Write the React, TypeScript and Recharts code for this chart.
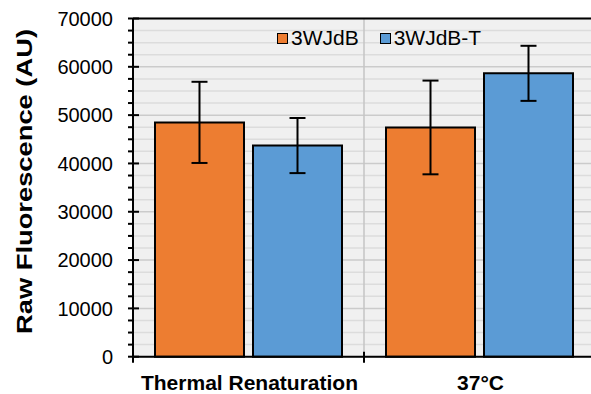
import React from 'react';
import { BarChart, Bar, XAxis, YAxis, CartesianGrid, ErrorBar, ReferenceLine } from 'recharts';

const categories = ['Thermal Renaturation', '37°C'];
const seriesNames = ['3WJdB', '3WJdB-T'];
const wtValues = [48500, 47450];
const wtErrors = [8400, 9700];
const tValues = [43700, 58650];
const tErrors = [5700, 5700];
const yTicks = [0, 2500, 5000, 7500, 10000, 12500, 15000, 17500, 20000, 22500, 25000, 27500, 30000, 32500, 35000, 37500, 40000, 42500, 45000, 47500, 50000, 52500, 55000, 57500, 60000, 62500, 65000, 67500, 70000];
const yLabels = [0, 10000, 20000, 30000, 40000, 50000, 60000, 70000];

const COLORS = ['#ED7D31', '#5B9BD5'];
const FONT = '"Liberation Sans", Arial, sans-serif';

const data = categories.map((c, i) => ({
  name: c,
  wt: wtValues[i],
  wtErr: wtErrors[i],
  t: tValues[i],
  tErr: tErrors[i],
}));

const YTick = (props: any) => {
  const { x, y, payload } = props;
  const major = yLabels.includes(payload.value);
  return (
    <g>
      <line x1={x - 5} x2={major ? x + 6 : x} y1={y} y2={y} stroke="#000" strokeWidth={2} />
      {major && (
        <text x={x - 20} y={y} dy="0.36em" textAnchor="end" fontSize={20} fontFamily={FONT} fill="#000">
          {payload.value}
        </text>
      )}
    </g>
  );
};

const XTick = (props: any) => {
  const { x, y, payload } = props;
  const off = payload.offset ?? 0;
  return (
    <g>
      <line x1={x - off} x2={x - off} y1={y - 5} y2={y + 6} stroke="#000" strokeWidth={2} />
      <text x={x + 1} y={y + 33} textAnchor="middle" fontSize={21} fontWeight="bold" fontFamily={FONT} fill="#000">
        {payload.value}
      </text>
    </g>
  );
};

const GridLine = (p: any) => (
  <line
    key={p.key}
    x1={p.x1}
    x2={p.x2}
    y1={p.y1}
    y2={p.y2}
    stroke={p.index % 4 === 0 ? '#cbcbcb' : '#dcdcdc'}
    strokeWidth={1.5}
  />
);

export default function App() {
  return (
    <div style={{ position: 'absolute', left: 0, top: 0, width: 591, height: 394, overflow: 'hidden', background: '#fff' }}>
      <BarChart
        width={600}
        height={394}
        data={data}
        margin={{ top: 18.5, right: 5, bottom: 0, left: 0 }}
        barCategoryGap={22}
        barGap={9}
      >
        <CartesianGrid fill="#f0f0f0" vertical={false} horizontal={GridLine} />
        <ReferenceLine x={categories[1]} position="start" stroke="#c4c4c4" strokeWidth={1.5} />
        <ReferenceLine y={70000} stroke="#000" strokeWidth={2} />
        <XAxis
          dataKey="name"
          height={37.3}
          axisLine={{ stroke: '#000', strokeWidth: 2 }}
          tickLine={false}
          tickSize={0}
          tickMargin={0}
          tick={<XTick />}
          interval={0}
        />
        <YAxis
          width={133}
          domain={[0, 70000]}
          ticks={yTicks}
          interval={0}
          axisLine={{ stroke: '#000', strokeWidth: 2 }}
          tickLine={false}
          tickSize={0}
          tickMargin={0}
          tick={<YTick />}
        />
        <Bar dataKey="wt" name={seriesNames[0]} fill={COLORS[0]} stroke="#000" strokeWidth={2} isAnimationActive={false}>
          <ErrorBar dataKey="wtErr" width={8} stroke="#000" strokeWidth={2} direction="y" isAnimationActive={false} />
        </Bar>
        <Bar dataKey="t" name={seriesNames[1]} fill={COLORS[1]} stroke="#000" strokeWidth={2} isAnimationActive={false}>
          <ErrorBar dataKey="tErr" width={8} stroke="#000" strokeWidth={2} direction="y" isAnimationActive={false} />
        </Bar>
      </BarChart>
      <svg width={591} height={394} style={{ position: 'absolute', left: 0, top: 0, pointerEvents: 'none' }}>
        <text
          transform="translate(32,181.5) rotate(-90)"
          textAnchor="middle"
          fontSize={22}
          fontWeight="bold"
          fontFamily={FONT}
          textLength={305}
          lengthAdjust="spacingAndGlyphs"
          fill="#000"
        >
          Raw Fluorescence (AU)
        </text>
      </svg>
      <div
        style={{
          position: 'absolute',
          left: 277,
          top: 26,
          display: 'flex',
          alignItems: 'center',
          fontFamily: FONT,
          fontSize: 21,
          color: '#000',
          lineHeight: '24px',
        }}
      >
        {seriesNames.map((n, i) => (
          <div key={n} style={{ display: 'flex', alignItems: 'center', marginRight: i === 0 ? 21 : 0 }}>
            <span
              style={{
                display: 'inline-block',
                width: 9,
                height: 9,
                background: COLORS[i],
                border: '1.5px solid #000',
                marginRight: 3,
              }}
            />
            <span>{n}</span>
          </div>
        ))}
      </div>
    </div>
  );
}
